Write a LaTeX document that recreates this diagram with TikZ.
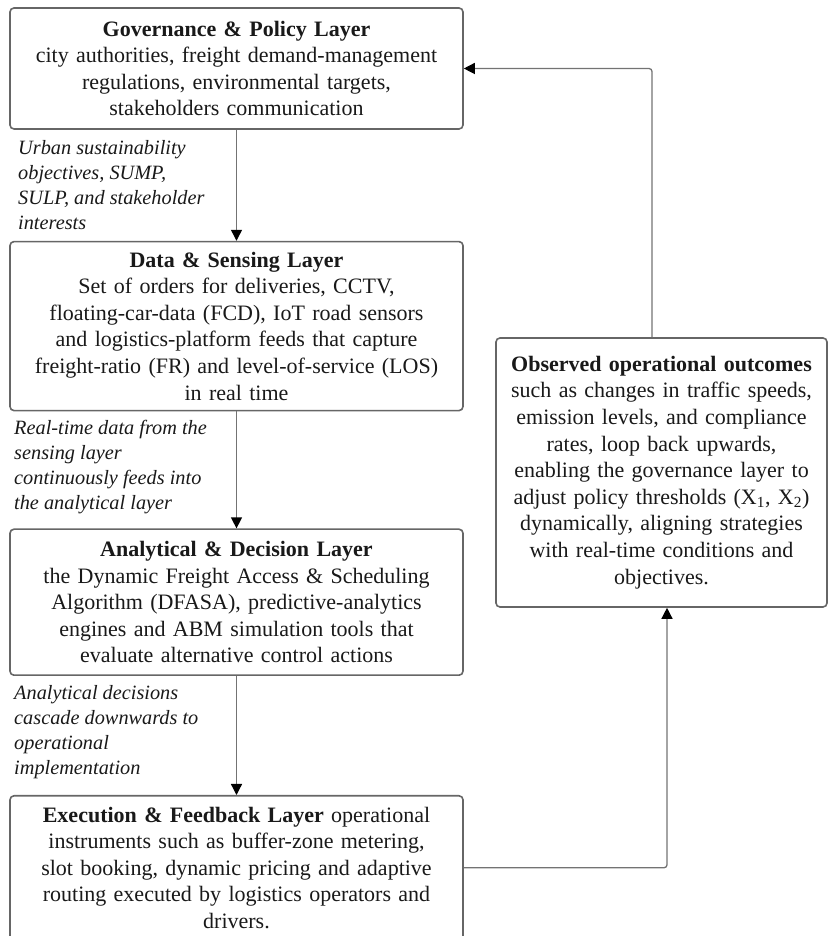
\documentclass[tikz,border=0pt]{standalone}
\usepackage{fontspec}
\setmainfont{Liberation Serif}
\usepackage{xcolor}
\usepackage{tikz}
\usetikzlibrary{positioning, arrows.meta}

\begin{document}
\begin{tikzpicture}[
  x=1pt, y=1pt,
  layerbox/.style = {
    rectangle, draw=black!60, fill=white, line width=1.6pt,
    rounded corners=4pt, align=center, inner sep=0pt,
    minimum width=453pt, text width=446pt, text=black!90,
    font=\fontsize{22}{26.6}\selectfont},
  outbox/.style = {
    layerbox, minimum width=331pt, text width=328pt,
    minimum height=269pt},
  arr/.style  = {-{Triangle[length=11pt,width=11pt,color=black]},
                 draw=black!55, line width=1.3pt, rounded corners=3pt},
  lbl/.style  = {anchor=north west, align=left, inner sep=0pt,
                 text=black!90, font=\fontsize{20.3}{25}\selectfont\itshape}
]
\useasboundingbox (0,0) rectangle (828,936);

%── Layer boxes ──────────────────────────────────────────────────
\node[layerbox, minimum height=121pt] (GOV) at (236.5, 867.5)
  {\textbf{Governance \& Policy Layer}\\
   city authorities, freight demand-management\\
   regulations, environmental targets,\\
   stakeholders communication};

\node[layerbox, minimum height=169pt, below=111pt of GOV] (DSL)
  {\textbf{Data \& Sensing Layer}\\
   Set of orders for deliveries, CCTV,\\
   floating-car-data (FCD), IoT road sensors\\
   and logistics-platform feeds that capture\\
   freight-ratio (FR) and level-of-service (LOS)\\
   in real time};

\node[layerbox, minimum height=146pt, below=117pt of DSL] (ADL)
  {\textbf{Analytical \& Decision Layer}\\
   the Dynamic Freight Access \& Scheduling\\
   Algorithm (DFASA), predictive-analytics\\
   engines and ABM simulation tools that\\
   evaluate alternative control actions};

\node[layerbox, minimum height=144pt, below=119pt of ADL] (EFL)
  {\textbf{Execution \& Feedback Layer} operational\\
   instruments such as buffer-zone metering,\\
   slot booking, dynamic pricing and adaptive\\
   routing executed by logistics operators and\\
   drivers.};

%── Outcome box ──────────────────────────────────────────────────
\node[outbox] (OUT) at (661.5, 463.5)
  {\textbf{Observed operational outcomes}\\
   such as changes in traffic speeds,\\
   emission levels, and compliance\\
   rates, loop back upwards,\\
   enabling the governance layer to\\
   adjust policy thresholds (X\textsubscript{1}, X\textsubscript{2})\\
   dynamically, aligning strategies\\
   with real-time conditions and\\
   objectives.};

%── Flow labels ──────────────────────────────────────────────────
\node[lbl] (L1) at (18, 796)
  {Urban sustainability\\objectives, SUMP,\\SULP, and stakeholder\\interests};
\node[lbl] (L2) at (14, 516)
  {Real-time data from the\\sensing layer\\continuously feeds into\\the analytical layer};
\node[lbl] (L3) at (14, 251)
  {Analytical decisions\\cascade downwards to\\operational\\implementation};

%── Downward arrows ──────────────────────────────────────────────
\draw[arr] (GOV) -- (DSL);
\draw[arr] (DSL) -- (ADL);
\draw[arr] (ADL) -- (EFL);

%── Feedback loop ────────────────────────────────────────────────
\draw[arr] (EFL.east) -| ([xshift=5.5pt]OUT.south);
\draw[arr] ([xshift=-9.5pt]OUT.north) |- (GOV.east);

\end{tikzpicture}
\end{document}
